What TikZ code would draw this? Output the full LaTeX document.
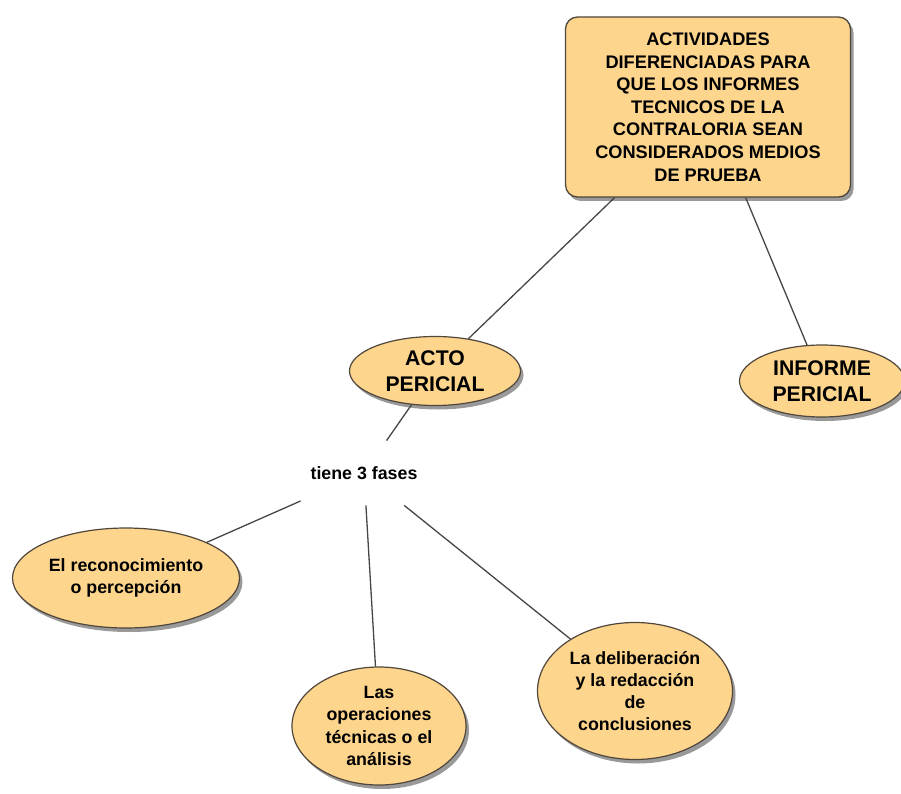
\documentclass[tikz,border=0pt]{standalone}
\usepackage{fontspec}
\setmainfont{Liberation Sans}
\usepackage{tikz}
\usetikzlibrary{arrows,shapes.geometric,shadows}
\definecolor{cpeach}{RGB}{253,213,140}
\definecolor{cedge}{RGB}{80,70,60}
\definecolor{cline}{RGB}{70,70,70}

\begin{document}
\begin{tikzpicture}[-,x=1pt,y=-1pt,thick,
  box node/.style={rectangle,rounded corners=12pt,fill=cpeach,draw=cedge,line width=1.3pt,
    align=center,font=\bfseries\fontsize{18.2}{22.6}\selectfont,inner sep=0pt,
    drop shadow={shadow xshift=3pt,shadow yshift=-4pt,fill=black,opacity=0.4}},
  main node/.style={ellipse,fill=cpeach,draw=cedge,line width=1.2pt,align=center,inner sep=0pt,
    font=\bfseries\fontsize{21.2}{26}\selectfont,
    drop shadow={shadow xshift=3pt,shadow yshift=-4pt,fill=black,opacity=0.4}},
  phase node/.style={main node,font=\bfseries\fontsize{17.8}{22.2}\selectfont}]
  \useasboundingbox (0,0) rectangle (901,794);

  \node[box node,minimum width=285pt,minimum height=180pt] (1) at (708,107)
    {ACTIVIDADES\\DIFERENCIADAS PARA\\QUE LOS INFORMES\\TECNICOS DE LA\\CONTRALORIA SEAN\\CONSIDERADOS MEDIOS\\DE PRUEBA};
  \node[main node,minimum width=171pt,minimum height=69pt] (2) at (435,371) {ACTO\\PERICIAL};
  \node[main node,minimum width=165pt,minimum height=72pt] (3) at (822,381) {INFORME\\PERICIAL};
  \node[minimum width=126pt,minimum height=64pt,inner sep=0pt,
    font=\bfseries\fontsize{17.8}{20}\selectfont] (4) at (364,473) {tiene 3 fases};
  \node[phase node,minimum width=227pt,minimum height=100pt] (5) at (126,578) {El reconocimiento\\o percepción};
  \node[phase node,minimum width=174pt,minimum height=118pt] (6) at (379,726) {Las\\operaciones\\técnicas o el\\análisis};
  \node[phase node,minimum width=195pt,minimum height=137pt] (7) at (635,691) {La deliberación\\y la redacción\\de\\conclusiones};

  \path[draw=cline,line width=1.3pt]
    (1) edge (2)
    (1) edge (3)
    (2) edge (4)
    (4) edge (5)
    (4) edge (6)
    (4) edge (7);

\end{tikzpicture}
\end{document}
